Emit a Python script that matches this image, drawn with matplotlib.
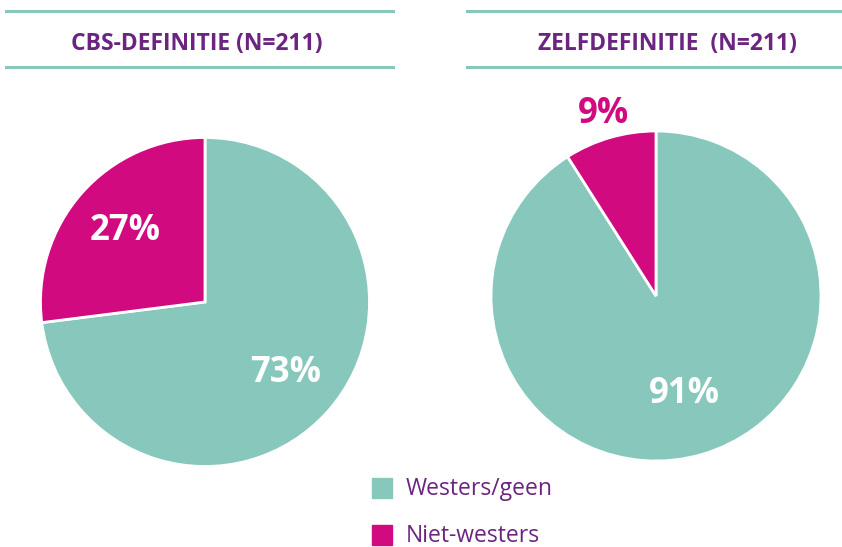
import matplotlib
matplotlib.use("Agg")
import matplotlib.pyplot as plt
import numpy as np
from matplotlib.patches import Rectangle
from matplotlib.lines import Line2D

plt.rcParams['font.family'] = ['Open Sans', 'DejaVu Sans']

categories = ["Westers/geen", "Niet-westers"]
titles = ["CBS-DEFINITIE (N=211)", "ZELFDEFINITIE  (N=211)"]
cbs_values = [73, 27]
zelf_values = [91, 9]
labels_cbs = ["73%", "27%"]
labels_zelf = ["91%", "9%"]

TEAL = "#88c8bc"
MAGENTA = "#d10a80"
PURPLE = "#6b2480"

W, H = 842, 547
fig = plt.figure(figsize=(W / 100, H / 100), dpi=100)

def px_axes(cx, cy, half):
    return fig.add_axes([(cx - half) / W, 1 - (cy + half) / H, 2 * half / W, 2 * half / H])

def draw_pie(cx, cy, r, values, labels, outside_idx=None, inner_d=0.64):
    half = r * 1.3
    ax = px_axes(cx, cy, half)
    wedges, _ = ax.pie(values, colors=[TEAL, MAGENTA], startangle=90, counterclock=False,
                       radius=1.0, wedgeprops=dict(edgecolor="white", linewidth=2))
    ax.set_xlim(-1.3, 1.3)
    ax.set_ylim(-1.3, 1.3)
    ax.set_aspect("equal")
    ax.axis("off")
    for i, (w, lab) in enumerate(zip(wedges, labels)):
        mid = np.deg2rad((w.theta1 + w.theta2) / 2)
        if i == outside_idx:
            d, col = 1.15, MAGENTA
        else:
            d, col = inner_d, "white"
        ax.text(d * np.cos(mid), d * np.sin(mid), lab, ha="center", va="center",
                fontsize=25, fontweight="bold", color=col)
    return ax

draw_pie(205, 302, 164.5, cbs_values, labels_cbs, inner_d=0.65)
draw_pie(656, 296, 165, zelf_values, labels_zelf, outside_idx=1, inner_d=0.62)

# header lines and titles
for (x0, x1, xc), t in zip([(6, 393, 197), (467, 842, 667)], titles):
    for y in (11, 67):
        fig.add_artist(Line2D([x0 / W, x1 / W], [1 - y / H, 1 - y / H], color=TEAL, linewidth=2.2))
    fig.text(xc / W, 1 - 44 / H, t, ha="center", va="center", fontsize=16.5,
             fontweight="bold", color=PURPLE)

# legend
for i, (cat, col) in enumerate(zip(categories, [TEAL, MAGENTA])):
    yc = 488 + i * 47
    fig.add_artist(Rectangle((372 / W, 1 - (yc + 10) / H), 20 / W, 20 / H, color=col,
                             transform=fig.transFigure))
    fig.text(406 / W, 1 - (yc + 1) / H, cat, ha="left", va="center", fontsize=16.5, color=PURPLE)

fig.savefig("out.png", dpi=100)
